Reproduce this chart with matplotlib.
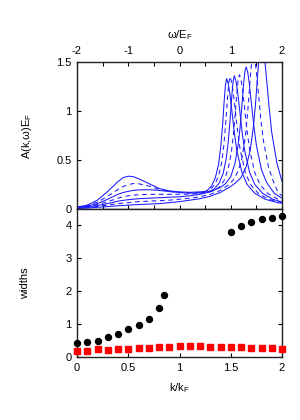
import matplotlib
matplotlib.use("Agg")
import matplotlib.pyplot as plt

plt.rcParams['font.family'] = ['Liberation Sans', 'DejaVu Sans']
plt.rcParams['mathtext.fontset'] = 'custom'
plt.rcParams['mathtext.rm'] = 'Liberation Sans'
plt.rcParams['mathtext.it'] = 'Liberation Sans'

# ---- top panel: spectral functions A(k, w) ----
w_low = [-2.0, -1.8, -1.6, -1.4, -1.2, -1.1, -1.0, -0.9, -0.8, -0.6, -0.4, -0.2, 0.0, 0.2, 0.4]

A0_low = [0.02, 0.04, 0.09, 0.18, 0.28, 0.32, 0.335, 0.33, 0.31, 0.26, 0.21, 0.185, 0.175, 0.17, 0.175]
w0_pk = [0.52, 0.62, 0.70, 0.76, 0.80, 0.84, 0.87, 0.895, 0.92, 0.95, 0.98, 1.02, 1.07, 1.12, 1.22, 1.32, 1.47, 1.67, 1.92, 2.0]
A0_pk = [0.18, 0.23, 0.32, 0.45, 0.61, 0.85, 1.09, 1.26, 1.33, 1.28, 1.19, 1.01, 0.78, 0.59, 0.37, 0.25, 0.16, 0.10, 0.064, 0.06]

A1_low = [0.02, 0.035, 0.07, 0.13, 0.20, 0.23, 0.248, 0.26, 0.258, 0.235, 0.20, 0.18, 0.168, 0.163, 0.168]
w1_pk = [0.585, 0.685, 0.765, 0.825, 0.865, 0.905, 0.935, 0.96, 0.985, 1.015, 1.045, 1.085, 1.135, 1.185, 1.285, 1.385, 1.535, 1.735, 2.0]
A1_pk = [0.19, 0.245, 0.34, 0.48, 0.65, 0.90, 1.12, 1.28, 1.35, 1.30, 1.20, 1.02, 0.79, 0.60, 0.37, 0.25, 0.16, 0.10, 0.065]

A2_low = [0.015, 0.03, 0.055, 0.10, 0.15, 0.168, 0.18, 0.19, 0.195, 0.197, 0.19, 0.178, 0.168, 0.162, 0.165]
w2_pk = [0.55, 0.67, 0.77, 0.85, 0.91, 0.95, 0.99, 1.02, 1.045, 1.07, 1.10, 1.13, 1.17, 1.22, 1.27, 1.37, 1.47, 1.62, 1.82, 2.0]
A2_pk = [0.175, 0.20, 0.26, 0.36, 0.51, 0.68, 0.93, 1.15, 1.30, 1.36, 1.31, 1.21, 1.03, 0.79, 0.60, 0.37, 0.25, 0.16, 0.10, 0.07]

A3_low = [0.015, 0.025, 0.045, 0.075, 0.11, 0.125, 0.135, 0.141, 0.145, 0.15, 0.15, 0.15, 0.15, 0.152, 0.16]
w3_pk = [0.55, 0.68, 0.77, 0.87, 0.95, 1.01, 1.05, 1.09, 1.12, 1.145, 1.17, 1.20, 1.23, 1.27, 1.32, 1.37, 1.47, 1.57, 1.72, 1.92, 2.0]
A3_pk = [0.17, 0.19, 0.22, 0.29, 0.41, 0.57, 0.75, 0.99, 1.19, 1.32, 1.37, 1.32, 1.22, 1.03, 0.79, 0.60, 0.37, 0.25, 0.16, 0.10, 0.09]

A4_low = [0.01, 0.02, 0.035, 0.055, 0.08, 0.088, 0.095, 0.10, 0.105, 0.11, 0.115, 0.12, 0.125, 0.135, 0.15]
w4_pk = [0.6, 0.8, 0.90, 1.00, 1.08, 1.14, 1.18, 1.22, 1.25, 1.275, 1.30, 1.33, 1.36, 1.40, 1.45, 1.50, 1.60, 1.70, 1.85, 2.0]
A4_pk = [0.175, 0.22, 0.26, 0.33, 0.46, 0.64, 0.82, 1.07, 1.27, 1.40, 1.45, 1.40, 1.29, 1.09, 0.85, 0.65, 0.40, 0.27, 0.16, 0.11]

A5_low = [0.01, 0.015, 0.025, 0.04, 0.055, 0.06, 0.065, 0.07, 0.075, 0.08, 0.085, 0.09, 0.10, 0.11, 0.125]
w5_pk = [0.6, 0.8, 0.94, 1.04, 1.14, 1.22, 1.28, 1.32, 1.36, 1.39, 1.415, 1.44, 1.47, 1.50, 1.54, 1.59, 1.64, 1.74, 1.84, 1.92, 2.0]
A5_pk = [0.15, 0.19, 0.24, 0.29, 0.38, 0.52, 0.72, 0.92, 1.19, 1.40, 1.53, 1.58, 1.53, 1.40, 1.18, 0.90, 0.69, 0.42, 0.27, 0.17, 0.135]

A6_low = [0.005, 0.01, 0.017, 0.025, 0.033, 0.036, 0.04, 0.043, 0.045, 0.05, 0.055, 0.065, 0.075, 0.09, 0.105]
w6_pk = [0.6, 0.8, 1.0, 1.1, 1.20, 1.30, 1.38, 1.44, 1.48, 1.52, 1.55, 1.575, 1.60, 1.63, 1.66, 1.70, 1.75, 1.80, 1.90, 2.0]
A6_pk = [0.13, 0.17, 0.23, 0.27, 0.32, 0.43, 0.60, 0.83, 1.05, 1.33, 1.54, 1.67, 1.72, 1.67, 1.54, 1.32, 1.03, 0.78, 0.47, 0.28]

curves = [
    (w0_pk, A0_low, A0_pk, '-'),
    (w1_pk, A1_low, A1_pk, '--'),
    (w2_pk, A2_low, A2_pk, '-'),
    (w3_pk, A3_low, A3_pk, '--'),
    (w4_pk, A4_low, A4_pk, '-'),
    (w5_pk, A5_low, A5_pk, '--'),
    (w6_pk, A6_low, A6_pk, '-'),
]

# ---- bottom panel: widths ----
k_circ = [0.0, 0.1, 0.2, 0.3, 0.4, 0.5, 0.6, 0.7, 0.8, 0.85, 1.5, 1.6, 1.7, 1.8, 1.9, 2.0]
w_circ = [0.44, 0.45, 0.49, 0.60, 0.71, 0.855, 0.97, 1.16, 1.48, 1.88, 3.79, 3.98, 4.11, 4.19, 4.24, 4.28]
k_sq = [0.0, 0.1, 0.2, 0.3, 0.4, 0.5, 0.6, 0.7, 0.8, 0.9, 1.0, 1.1, 1.2, 1.3, 1.4, 1.5, 1.6, 1.7, 1.8, 1.9, 2.0]
w_sq = [0.19, 0.19, 0.23, 0.21, 0.23, 0.25, 0.27, 0.28, 0.30, 0.31, 0.32, 0.33, 0.32, 0.31, 0.30, 0.29, 0.29, 0.28, 0.27, 0.26, 0.25]

top_xticks = [-2, -1.5, -1, -0.5, 0, 0.5, 1, 1.5, 2]
top_xlabels = ['-2', '', '-1', '', '0', '', '1', '', '2']
top_yticks = [0, 0.5, 1, 1.5]
top_ylabels = ['0', '0.5', '1', '1.5']
bot_xticks = [0, 0.5, 1, 1.5, 2]
bot_xlabels = ['0', '0.5', '1', '1.5', '2']
bot_yticks = [0, 1, 2, 3, 4]
bot_ylabels = ['0', '1', '2', '3', '4']

fig = plt.figure(figsize=(3.0, 4.2), dpi=100)
ax1 = fig.add_axes([77/300, 1-209/420, 205/300, 147/420])
ax2 = fig.add_axes([77/300, 1-357/420, 205/300, 148/420])

for wpk, alow, apk, ls in curves:
    ww = w_low + wpk
    aa = alow + apk
    if ls == '-':
        ax1.plot(ww, aa, color='#1a1aff', lw=0.75, ls='-')
    else:
        ax1.plot(ww, aa, color='#1a1aff', lw=0.75, ls=(0, (4.5, 3.5)))

ax1.set_xlim(-2, 2)
ax1.set_ylim(0, 1.5)
ax1.set_xticks(top_xticks)
ax1.set_xticklabels(top_xlabels)
ax1.set_yticks(top_yticks)
ax1.set_yticklabels(top_ylabels)
ax1.xaxis.set_ticks_position('both')
ax1.xaxis.set_label_position('top')
ax1.tick_params(axis='x', labeltop=True, labelbottom=False)
ax1.yaxis.set_ticks_position('both')
ax1.set_xlabel(r'ω/E$_\mathregular{F}$', fontsize=8, labelpad=6)
ax1.set_ylabel(r'A(k,ω)E$_\mathregular{F}$', fontsize=8, labelpad=16)

ax2.plot(k_sq, w_sq, ls='none', marker='s', ms=4.0, color='#ff0000', mec='#ff0000', clip_on=False, zorder=3)
ax2.plot(k_circ, w_circ, ls='none', marker='o', ms=4.3, color='black', clip_on=False, zorder=4)
ax2.set_xlim(0, 2)
ax2.set_ylim(0, 4.5)
ax2.set_xticks(bot_xticks)
ax2.set_xticklabels(bot_xlabels)
ax2.set_yticks(bot_yticks)
ax2.set_yticklabels(bot_ylabels)
ax2.yaxis.set_ticks_position('both')
ax2.tick_params(axis='x', top=False)
ax2.set_xlabel(r'k/k$_\mathregular{F}$', fontsize=8, labelpad=6)
ax2.set_ylabel('widths', fontsize=8, labelpad=25)

for ax in (ax1, ax2):
    ax.tick_params(direction='in', length=3, width=0.8, labelsize=8, pad=4, colors='black')
    for s in ax.spines.values():
        s.set_linewidth(1.0)
        s.set_color('#222222')

fig.savefig('out.png', dpi=100)
